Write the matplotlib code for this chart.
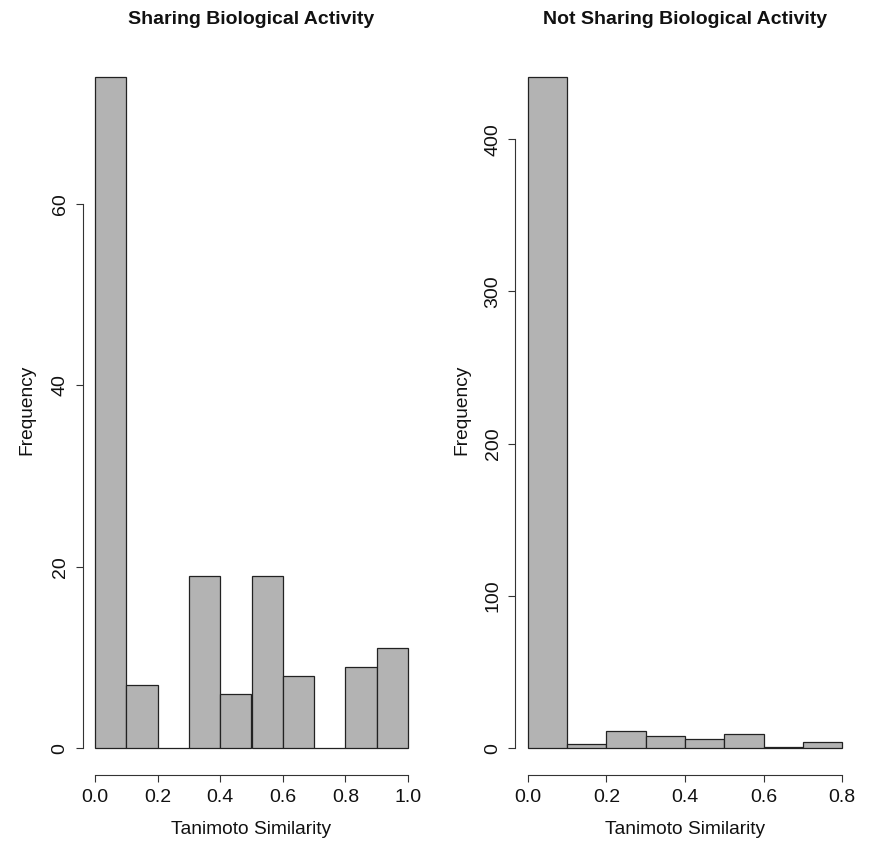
import matplotlib
matplotlib.use("Agg")
import matplotlib.pyplot as plt
import numpy as np

plt.rcParams['font.family'] = ['Liberation Sans', 'DejaVu Sans']

# Data (histogram counts per bin of width 0.1)
left_breaks = [0.0, 0.1, 0.2, 0.3, 0.4, 0.5, 0.6, 0.7, 0.8, 0.9, 1.0]
left_counts = [74, 7, 0, 19, 6, 19, 8, 0, 9, 11]
left_yticks = [0, 20, 40, 60]
left_xticks = [0.0, 0.2, 0.4, 0.6, 0.8, 1.0]

right_breaks = [0.0, 0.1, 0.2, 0.3, 0.4, 0.5, 0.6, 0.7, 0.8]
right_counts = [441, 3, 11, 8, 6, 9, 1, 4]
right_yticks = [0, 100, 200, 300, 400]
right_xticks = [0.0, 0.2, 0.4, 0.6, 0.8]

titles = ["Sharing Biological Activity", "Not Sharing Biological Activity"]
xlabel = "Tanimoto Similarity"
ylabel = "Frequency"

W, H = 869, 842
fig = plt.figure(figsize=(W / 100, H / 100), dpi=100)

def px_axes(l, r, t, b):
    return [l / W, 1 - b / H, (r - l) / W, (b - t) / H]

panels = [
    (px_axes(82.5, 420.5, 50, 775), left_breaks, left_counts, left_yticks, left_xticks, titles[0], 27),
    (px_axes(515.4, 854.6, 50, 775), right_breaks, right_counts, right_yticks, right_xticks, titles[1], 462),
]

for rect, breaks, counts, yt, xt, title, ylab_x in panels:
    ax = fig.add_axes(rect)
    b = np.array(breaks)
    c = np.array(counts)
    ax.bar(b[:-1], c, width=np.diff(b), align='edge', color='#B3B3B3',
           edgecolor='#222222', linewidth=0.9)
    xr = b[-1] - b[0]
    ax.set_xlim(b[0] - 0.04 * xr, b[-1] + 0.04 * xr)
    ymax = c.max()
    ax.set_ylim(-0.04 * ymax, ymax * 1.04)
    for s in ['top', 'right']:
        ax.spines[s].set_visible(False)
    ax.spines['left'].set_bounds(yt[0], yt[-1])
    ax.spines['bottom'].set_bounds(xt[0], xt[-1])
    for s in ['left', 'bottom']:
        ax.spines[s].set_color('#333333')
        ax.spines[s].set_linewidth(0.8)
    ax.set_yticks(yt)
    ax.set_yticklabels([str(v) for v in yt], rotation=90, va='center')
    ax.set_xticks(xt)
    ax.set_xticklabels([f"{v:.1f}" for v in xt])
    ax.tick_params(axis='both', length=5, width=0.8, color='#333333',
                   labelsize=14, pad=5, labelcolor='#111111')
    cx = (rect[0] + rect[2] / 2)
    fig.text(cx, 1 - 20 / H, title, ha='center', va='center',
             fontsize=14, fontweight='bold', color='#111111')
    fig.text(cx, 1 - 829 / H, xlabel, ha='center', va='center',
             fontsize=13.8, color='#111111')
    fig.text(ylab_x / W, 1 - 410 / H, ylabel, ha='center', va='center',
             rotation=90, fontsize=13.8, color='#111111')

fig.savefig("out.png", dpi=100)
